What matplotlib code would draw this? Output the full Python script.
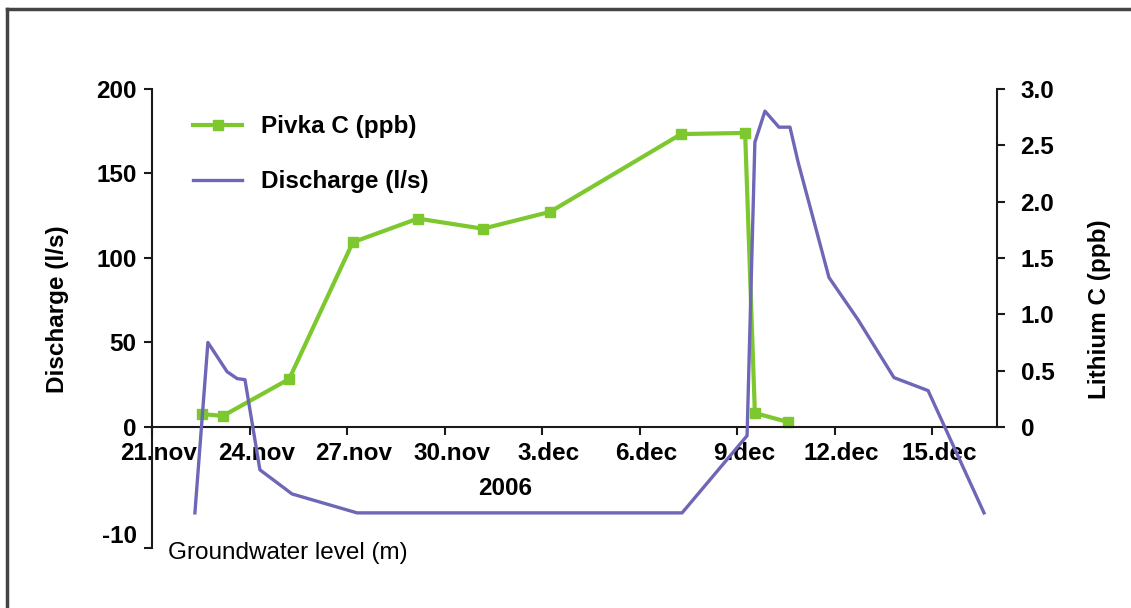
import matplotlib
matplotlib.use("Agg")
import matplotlib.pyplot as plt
import matplotlib.transforms as mtransforms
from matplotlib.lines import Line2D

plt.rcParams['font.family'] = ['Liberation Sans', 'DejaVu Sans']

# days counted from 21 nov 2006
tick_days = [0, 3, 6, 9, 12, 15, 18, 21, 24]
tick_names = ["21.nov", "24.nov", "27.nov", "30.nov", "3.dec", "6.dec", "9.dec", "12.dec", "15.dec"]

# discharge / groundwater trace (left axis units, lower part is groundwater level)
q_days = [1.32, 1.72, 2.31, 2.62, 2.86, 3.32, 4.31, 6.31, 16.31, 18.31, 18.55, 18.86,
          19.29, 19.63, 19.88, 20.83, 21.72, 22.83, 23.88, 25.6]
q_vals = [-51.0, 49.9, 32.6, 28.5, 27.9, -25.5, -39.8, -51.0, -51.0, -5.3, 168.5, 186.9,
          177.4, 177.4, 156.7, 88.4, 63.5, 29.1, 21.4, -51.0]

# Pivka lithium concentration (right axis, ppb)
li_days = [1.54, 2.18, 4.22, 6.18, 8.18, 10.18, 12.25, 16.28, 18.25, 18.55, 19.57]
li_vals = [0.115, 0.098, 0.426, 1.64, 1.85, 1.76, 1.91, 2.60, 2.61, 0.124, 0.044]

left_ticks = [-71.8, 0, 50, 100, 150, 200]
left_labels = ["-10", "0", "50", "100", "150", "200"]
right_ticks = [0, 0.5, 1.0, 1.5, 2.0, 2.5, 3.0]
right_labels = ["0", "0.5", "1.0", "1.5", "2.0", "2.5", "3.0"]

green = "#7cc82e"
purple = "#6e66b6"
fs = 17.5

fig = plt.figure(figsize=(11.31, 6.08), dpi=100)
ax = fig.add_axes([152/1131, 1-548/608, (997-152)/1131, (548-89)/608])
ax.set_xlim(0, 26)
ax.set_ylim(-71.8, 200)

ax.plot(q_days, q_vals, color=purple, lw=2.4, zorder=3)

ax2 = ax.twinx()
ax2.set_ylim(-121/112.67, 3.0)
ax2.plot(li_days, li_vals, color=green, lw=3, marker="s", ms=6.5, zorder=2)
ax.set_zorder(ax2.get_zorder() + 1)
ax.patch.set_visible(False)

# spines
for s in ["top", "right"]:
    ax.spines[s].set_visible(False)
for s in ["top", "left", "bottom"]:
    ax2.spines[s].set_visible(False)
ax.spines["bottom"].set_position(("data", 0))
ax.spines["left"].set_bounds(-71.8, 200)
ax2.spines["right"].set_bounds(0, 3.0)
for sp in [ax.spines["left"], ax.spines["bottom"], ax2.spines["right"]]:
    sp.set_linewidth(1.5)
    sp.set_color("#1a1a1a")

ax.set_xticks(tick_days)
ax.set_xticklabels(tick_names, fontsize=fs, fontweight="bold")
ax.set_yticks(left_ticks)
ax.set_yticklabels(left_labels, fontsize=fs, fontweight="bold")
ax2.set_yticks(right_ticks)
ax2.set_yticklabels(right_labels, fontsize=fs, fontweight="bold")
ax.tick_params(axis="both", length=6, width=1.5, color="#1a1a1a", pad=5)
ax.tick_params(axis="x", pad=5)
ax2.tick_params(axis="y", length=6, width=1.5, color="#1a1a1a", pad=11)
ax.get_yticklabels()[0].set_va("bottom")

# date labels sit a little to the right of their ticks
shift = mtransforms.ScaledTranslation(7/100, 0, fig.dpi_scale_trans)
for lab in ax.get_xticklabels():
    lab.set_transform(lab.get_transform() + shift)

ax.set_ylabel("Discharge (l/s)", fontsize=fs, fontweight="bold")
ax2.set_ylabel("Lithium C (ppb)", fontsize=fs, fontweight="bold")
ax.yaxis.set_label_coords(-0.115 + 14/845, 0.52)
ax2.yaxis.set_label_coords(1 + (1088-997)/845, 0.52)

ax.text(10.86, -36.8, "2006", fontsize=fs, fontweight="bold", ha="center", va="center")
ax.text(0.49, -74.8, "Groundwater level (m)", fontsize=fs, ha="left", va="center")

handles = [Line2D([], [], color=green, lw=3, marker="s", ms=6.5),
           Line2D([], [], color=purple, lw=2.4)]
leg = ax.legend(handles, ["Pivka C (ppb)", "Discharge (l/s)"], loc="upper left",
                bbox_to_anchor=(0.023, 0.99), frameon=False,
                prop={"size": fs, "weight": "bold"},
                handlelength=2.0, handletextpad=0.8, labelspacing=1.3)

# outer frame (only top and left visible in the crop)
fig.add_artist(Line2D([7/1131, 7/1131], [0, 1-9/608], color="#444444", lw=2.5,
                      transform=fig.transFigure))
fig.add_artist(Line2D([7/1131, 1], [1-9/608, 1-9/608], color="#444444", lw=2.5,
                      transform=fig.transFigure))

fig.savefig("out.png", dpi=100)
